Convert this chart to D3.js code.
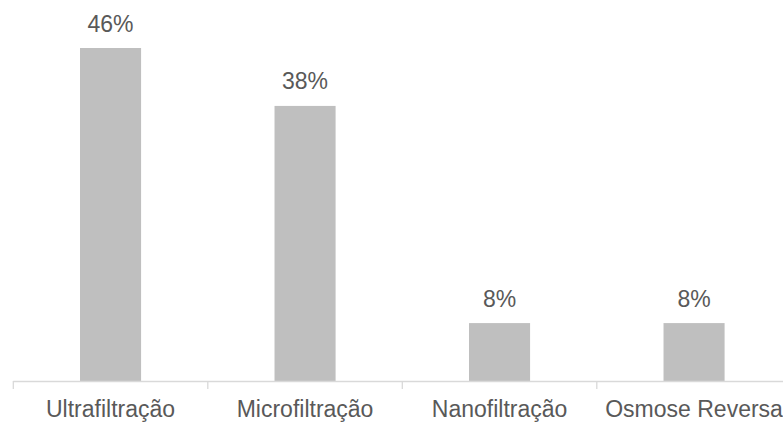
<!DOCTYPE html>
<html>
<head>
<meta charset="utf-8">
<script src="https://cdn.jsdelivr.net/npm/d3@7"></script>
<style>
  html, body { margin: 0; padding: 0; background: #fff; overflow: hidden; }
  svg { display: block; }
  text { font-family: "Liberation Sans", Arial, sans-serif; fill: #595959; }
</style>
</head>
<body>
<svg id="chart" width="783" height="423"></svg>
<script>
// Membrane process share (%)
const categories = ["Ultrafiltração", "Microfiltração", "Nanofiltração", "Osmose Reversa"];
const values = [46, 38, 8, 8];
const valueLabels = ["46%", "38%", "8%", "8%"];

const svg = d3.select("#chart");
const baseY = 381;
const fontSize = "23px";

const x = d3.scaleBand()
  .domain(categories)
  .range([13.3, 791.3])
  .paddingInner(0.686)
  .paddingOuter(0.343);

const y = d3.scaleLinear()
  .domain([0, 46])
  .range([baseY, 48]);

// bars
svg.append("g").selectAll("rect")
  .data(values)
  .join("rect")
  .attr("x", (d, i) => x(categories[i]))
  .attr("width", x.bandwidth())
  .attr("y", d => y(d))
  .attr("height", d => baseY - y(d))
  .attr("fill", "#bfbfbf");

// value labels
svg.append("g").selectAll("text")
  .data(values)
  .join("text")
  .attr("x", (d, i) => x(categories[i]) + x.bandwidth() / 2)
  .attr("y", d => y(d) - 16.5)
  .attr("text-anchor", "middle")
  .style("font-size", fontSize)
  .text((d, i) => valueLabels[i]);

// category axis: baseline with ticks at band boundaries
const axis = svg.append("g");
const r = x.range();
axis.append("line")
  .attr("x1", r[0]).attr("x2", r[1])
  .attr("y1", baseY + 0.5).attr("y2", baseY + 0.5)
  .attr("stroke", "#d9d9d9").attr("stroke-width", 1.3);
const step = x.step();
const bounds = d3.range(categories.length + 1).map(i => r[0] + i * step);
axis.selectAll("line.tick")
  .data(bounds)
  .join("line")
  .attr("class", "tick")
  .attr("x1", d => d).attr("x2", d => d)
  .attr("y1", baseY).attr("y2", baseY + 8)
  .attr("stroke", "#d9d9d9").attr("stroke-width", 1.3);

axis.selectAll("text")
  .data(categories)
  .join("text")
  .attr("x", d => x(d) + x.bandwidth() / 2)
  .attr("y", 416.5)
  .attr("text-anchor", "middle")
  .style("font-size", fontSize)
  .text(d => d);
</script>
</body>
</html>
